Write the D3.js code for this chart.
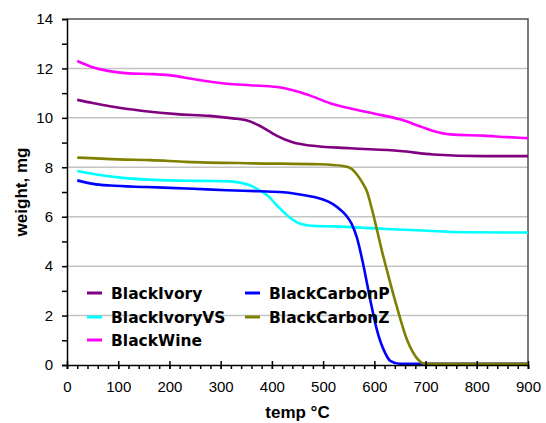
<!DOCTYPE html>
<html>
<head>
<meta charset="utf-8">
<script src="https://cdn.jsdelivr.net/npm/d3@7"></script>
<style>
  body { margin: 0; background: #fff; }
  svg { display: block; }
</style>
</head>
<body>
<div class="chart"></div>
<script>
// [temp °C, weight mg]
const blackIvory = [
  [20, 10.73], [50, 10.6], [84, 10.47], [149, 10.28], [214, 10.15], [279, 10.08],
  [324, 9.98], [350, 9.9], [377, 9.67], [395, 9.45], [410, 9.27], [442, 9.0],
  [475, 8.88], [553, 8.77], [650, 8.66], [715, 8.52], [813, 8.45], [900, 8.45]
];
const blackIvoryVS = [
  [20, 7.85], [60, 7.7], [104, 7.58], [182, 7.48], [260, 7.45], [318, 7.43],
  [340, 7.37], [360, 7.25], [377, 7.05], [392, 6.85], [410, 6.45], [436, 5.95],
  [455, 5.72], [488, 5.62], [520, 5.61], [618, 5.51], [683, 5.45], [781, 5.37], [900, 5.36]
];
const blackWine = [
  [20, 12.3], [50, 12.05], [80, 11.9], [120, 11.8], [168, 11.77], [210, 11.7],
  [246, 11.57], [312, 11.38], [357, 11.32], [410, 11.25], [455, 11.04], [475, 10.9],
  [520, 10.55], [560, 10.35], [605, 10.15], [650, 9.94], [690, 9.65], [715, 9.47],
  [748, 9.33], [813, 9.28], [860, 9.22], [900, 9.18]
];
const blackCarbonP = [
  [20, 7.47], [51, 7.33], [84, 7.26], [156, 7.2], [246, 7.13], [312, 7.07],
  [377, 7.03], [422, 6.99], [455, 6.9], [488, 6.77], [508, 6.63], [520, 6.5],
  [533, 6.29], [545, 6.05], [556, 5.7], [566, 5.15], [578, 4.1], [592, 2.64],
  [605, 1.42], [621, 0.49], [631, 0.17], [650, 0.05], [900, 0.05]
];
const blackCarbonZ = [
  [20, 8.39], [100, 8.32], [162, 8.29], [234, 8.22], [363, 8.16], [494, 8.12],
  [539, 8.05], [555, 7.95], [566, 7.71], [576, 7.4], [586, 7.0], [596, 6.25],
  [605, 5.48], [615, 4.6], [625, 3.8], [644, 2.35], [664, 1.01], [683, 0.28],
  [699, 0.05], [900, 0.05]
];

const series = [
  {name: 'BlackIvory',   values: blackIvory,   color: '#800080'},
  {name: 'BlackIvoryVS', values: blackIvoryVS, color: '#00ffff'},
  {name: 'BlackWine',    values: blackWine,    color: '#ff00ff'},
  {name: 'BlackCarbonP', values: blackCarbonP, color: '#0000ff'},
  {name: 'BlackCarbonZ', values: blackCarbonZ, color: '#808000'}
];
const xTicks = [0, 100, 200, 300, 400, 500, 600, 700, 800, 900];
const yTicks = [0, 2, 4, 6, 8, 10, 12, 14];

const FULL_WIDTH = 546;
const FULL_HEIGHT = 423;
const margin = { top: 19, right: 18, bottom: 58, left: 67 };
const width = FULL_WIDTH - margin.left - margin.right;
const height = FULL_HEIGHT - margin.top - margin.bottom;

const root = d3.select('.chart')
  .append('svg')
    .attr('width', FULL_WIDTH)
    .attr('height', FULL_HEIGHT);
const svg = root.append('g')
    .attr('transform', `translate(${margin.left}, ${margin.top})`);

const xScale = d3.scaleLinear().domain([0, 900]).range([0, width]);
const yScale = d3.scaleLinear().domain([0, 14]).range([height, 0]);

// gridlines
svg.append('g')
  .selectAll('line')
  .data(yTicks.filter(d => d > 0 && d < 14))
  .join('line')
    .attr('x1', 0).attr('x2', width)
    .attr('y1', d => yScale(d)).attr('y2', d => yScale(d))
    .attr('stroke', '#c4c4c4')
    .attr('stroke-width', 1.5);

// plot border (top, right)
svg.append('path')
  .attr('d', `M0,0H${width}V${height}`)
  .attr('fill', 'none')
  .attr('stroke', '#505050')
  .attr('stroke-width', 1.5);

// curves
const line = d3.line()
  .x(d => xScale(d[0]))
  .y(d => yScale(d[1]))
  .curve(d3.curveMonotoneX);

svg.append('g')
  .selectAll('path')
  .data(series)
  .join('path')
    .attr('d', d => line(d.values))
    .attr('fill', 'none')
    .attr('stroke', d => d.color)
    .attr('stroke-width', 2.6);

// y axis
const yAxis = svg.append('g')
  .call(d3.axisLeft(yScale).tickValues(d3.range(0, 15, 1)).tickSize(5).tickFormat(''));
const yLabels = svg.append('g')
  .call(d3.axisLeft(yScale).tickValues(yTicks).tickSize(0).tickPadding(14));

// x axis
const xAxis = svg.append('g')
  .attr('transform', `translate(0, ${height})`)
  .call(d3.axisBottom(xScale).tickValues(d3.range(0, 901, 20)).tickSize(4).tickFormat(''));
const xMajor = svg.append('g')
  .attr('transform', `translate(0, ${height - 4})`)
  .call(d3.axisBottom(xScale).tickValues(xTicks).tickSize(8).tickFormat(''));
const xLabels = svg.append('g')
  .attr('transform', `translate(0, ${height})`)
  .call(d3.axisBottom(xScale).tickValues(xTicks).tickSize(0).tickPadding(16));

[yAxis, yLabels, xAxis, xMajor, xLabels].forEach(g => {
  g.selectAll('.domain').attr('stroke', '#000').attr('stroke-width', 1.5);
  g.selectAll('.tick line').attr('stroke', '#000').attr('stroke-width', 1.5);
  g.selectAll('text')
    .attr('font-family', 'Liberation Sans, Arial, sans-serif')
    .attr('font-size', 15)
    .attr('fill', '#000');
});
xMajor.select('.domain').remove();
yLabels.select('.domain').remove();
xLabels.select('.domain').remove();

// axis titles
root.append('text')
  .attr('x', margin.left + width / 2)
  .attr('y', 418)
  .attr('text-anchor', 'middle')
  .attr('font-family', 'Liberation Sans, Arial, sans-serif')
  .attr('font-weight', 'bold')
  .attr('font-size', 17)
  .text('temp °C');

root.append('text')
  .attr('transform', `translate(27, ${margin.top + height / 2}) rotate(-90)`)
  .attr('text-anchor', 'middle')
  .attr('font-family', 'Liberation Sans, Arial, sans-serif')
  .attr('font-weight', 'bold')
  .attr('font-size', 17)
  .text('weight, mg');

// legend
const legendPos = [
  {x: 87, y: 293}, {x: 87, y: 317}, {x: 87, y: 340},
  {x: 245, y: 293}, {x: 245, y: 317}
];
const legend = root.append('g')
  .selectAll('g')
  .data(series)
  .join('g')
    .attr('transform', (d, i) => `translate(${legendPos[i].x}, ${legendPos[i].y})`);
legend.append('line')
  .attr('x1', 0).attr('x2', 15)
  .attr('stroke', d => d.color)
  .attr('stroke-width', 3);
legend.append('text')
  .attr('x', 24)
  .attr('dy', '0.36em')
  .attr('font-family', 'DejaVu Sans, Verdana, sans-serif')
  .attr('font-weight', 'bold')
  .attr('font-size', 15.5)
  .attr('fill', '#000')
  .text(d => d.name);
</script>
</body>
</html>
